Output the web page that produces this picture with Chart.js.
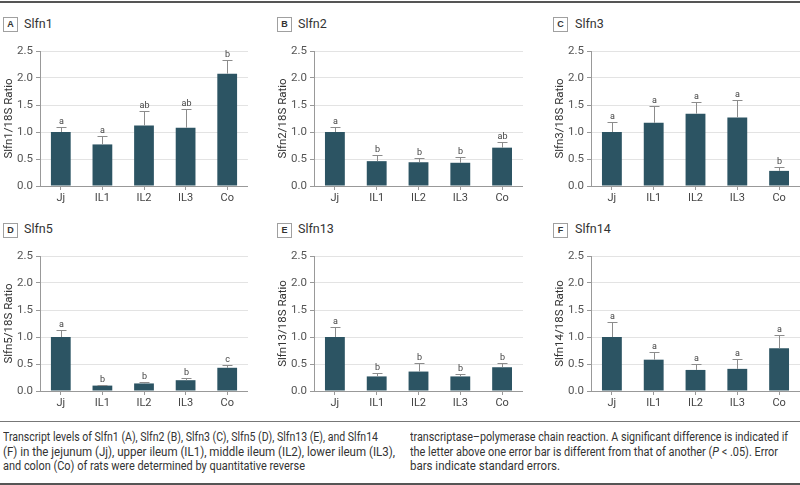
<!DOCTYPE html>
<html>
<head>
<meta charset="utf-8">
<script src="https://cdn.jsdelivr.net/npm/chart.js@4.4.0/dist/chart.umd.min.js"></script>
<style>
  body { margin: 0; width: 800px; height: 485px; background: #fff; position: relative; overflow: hidden;
         font-family: "Roboto", sans-serif; color: #333; }
  .rule { position: absolute; left: 0; width: 800px; }
  .tag { position: absolute; width: 13px; height: 13px; border: 1px solid #a0a0a0; font: bold 9px "Liberation Sans", sans-serif;
         text-align: center; line-height: 13px; color: #333; }
  .ttl { position: absolute; font-size: 12.5px; color: #333; line-height: 14px; }
  canvas { position: absolute; }
  .cl { position: absolute; font-size: 12px; line-height: 14px; color: #333; white-space: nowrap;
        transform-origin: 0 0; }
</style>
</head>
<body>
<div class="rule" style="top:1px;height:2px;background:#555"></div>

<div class="tag" style="left:3px;top:17px">A</div><div class="ttl" style="left:24px;top:17px">Slfn1</div>
<div class="tag" style="left:277px;top:17px">B</div><div class="ttl" style="left:298px;top:17px">Slfn2</div>
<div class="tag" style="left:553px;top:17px">C</div><div class="ttl" style="left:575px;top:17px">Slfn3</div>
<div class="tag" style="left:3px;top:223px">D</div><div class="ttl" style="left:24px;top:222px">Slfn5</div>
<div class="tag" style="left:277px;top:223px">E</div><div class="ttl" style="left:298px;top:222px">Slfn13</div>
<div class="tag" style="left:553px;top:223px">F</div><div class="ttl" style="left:575px;top:222px">Slfn14</div>

<canvas id="cA"></canvas>
<canvas id="cB"></canvas>
<canvas id="cC"></canvas>
<canvas id="cD"></canvas>
<canvas id="cE"></canvas>
<canvas id="cF"></canvas>

<div class="rule" style="top:421px;height:1px;background:#777"></div>
<div class="cl" style="left:3px;top:430px" data-w="375">Transcript levels of Slfn1 (A), Slfn2 (B), Slfn3 (C), Slfn5 (D), Slfn13 (E), and Slfn14</div>
<div class="cl" style="left:3px;top:444.5px" data-w="392">(F) in the jejunum (Jj), upper ileum (IL1), middle ileum (IL2), lower ileum (IL3),</div>
<div class="cl" style="left:3px;top:459px" data-w="302">and colon (Co) of rats were determined by quantitative reverse</div>
<div class="cl" style="left:410px;top:430px" data-w="378">transcriptase–polymerase chain reaction. A significant difference is indicated if</div>
<div class="cl" style="left:410px;top:444.5px" data-w="368">the letter above one error bar is different from that of another (<i>P</i> &lt; .05). Error</div>
<div class="cl" style="left:410px;top:459px" data-w="150">bars indicate standard errors.</div>
<div class="rule" style="top:483px;height:2px;background:#555"></div>

<script>
const categories = ["Jj", "IL1", "IL2", "IL3", "Co"];
const yTicks = [0, 0.5, 1.0, 1.5, 2.0, 2.5];

const slfn1Values = [1.00, 0.77, 1.12, 1.08, 2.08];
const slfn1Upper  = [1.09, 0.92, 1.39, 1.42, 2.33];
const slfn1Letters = ["a", "a", "ab", "ab", "b"];

const slfn2Values = [1.00, 0.46, 0.44, 0.43, 0.71];
const slfn2Upper  = [1.09, 0.57, 0.52, 0.54, 0.81];
const slfn2Letters = ["a", "b", "b", "b", "ab"];

const slfn3Values = [1.00, 1.17, 1.34, 1.27, 0.28];
const slfn3Upper  = [1.18, 1.48, 1.55, 1.59, 0.35];
const slfn3Letters = ["a", "a", "a", "a", "b"];

const slfn5Values = [1.00, 0.10, 0.14, 0.20, 0.43];
const slfn5Upper  = [1.13, 0.11, 0.16, 0.25, 0.49];
const slfn5Letters = ["a", "b", "b", "b", "c"];

const slfn13Values = [1.00, 0.27, 0.36, 0.27, 0.44];
const slfn13Upper  = [1.18, 0.33, 0.51, 0.31, 0.52];
const slfn13Letters = ["a", "b", "b", "b", "b"];

const slfn14Values = [1.00, 0.58, 0.39, 0.41, 0.79];
const slfn14Upper  = [1.27, 0.72, 0.50, 0.59, 1.04];
const slfn14Letters = ["a", "a", "a", "a", "a"];

const barColor = "#2c5463";
const fontFam = '"Roboto", sans-serif';

// squeeze caption lines to the width they have in the figure
document.querySelectorAll(".cl").forEach(el => {
  const w = el.getBoundingClientRect().width;
  el.style.transform = "scaleX(" + (Number(el.dataset.w) / w) + ")";
});

// error bars + significance letters, drawn through the chart's own scales
const errorPlugin = {
  id: "errorBars",
  afterDatasetsDraw(chart) {
    const ctx = chart.ctx;
    const y = chart.scales.y;
    const meta = chart.getDatasetMeta(0);
    const ds = chart.data.datasets[0];
    ctx.save();
    ctx.strokeStyle = "#8c8c8c";
    ctx.lineWidth = 1;
    meta.data.forEach((bar, i) => {
      const x = Math.round(bar.x) + 0.5;
      const yTop = Math.round(y.getPixelForValue(ds.upper[i])) + 0.5;
      const yVal = y.getPixelForValue(ds.data[i]);
      ctx.beginPath();
      ctx.moveTo(x, yVal);
      ctx.lineTo(x, yTop);
      ctx.moveTo(x - 5, yTop);
      ctx.lineTo(x + 5, yTop);
      ctx.stroke();
      ctx.fillStyle = "#444";
      ctx.font = "9px " + fontFam;
      ctx.textAlign = "center";
      ctx.textBaseline = "alphabetic";
      ctx.fillText(ds.letters[i], x, yTop - 4);
    });
    ctx.restore();
  }
};

function makePanel(id, left, top, width, values, upper, letters, yTitle) {
  const cv = document.getElementById(id);
  cv.width = width;
  cv.height = 170;
  cv.style.left = left + "px";
  cv.style.top = top + "px";
  new Chart(cv, {
    type: "bar",
    data: {
      labels: categories,
      datasets: [{
        data: values,
        upper: upper,
        letters: letters,
        backgroundColor: barColor,
        barPercentage: 0.95,
        categoryPercentage: 0.5
      }]
    },
    options: {
      responsive: false,
      animation: false,
      layout: { padding: { top: 11, right: 0, left: 0, bottom: 0 } },
      plugins: { legend: { display: false }, tooltip: { enabled: false } },
      scales: {
        x: {
          grid: { display: true, drawOnChartArea: false, offset: false, tickLength: 4, tickColor: "#999" },
          border: { color: "#999" },
          ticks: { color: "#444", font: { family: fontFam, size: 11 }, padding: 2 },
          afterFit(s) { s.height = 24; }
        },
        y: {
          min: 0, max: 2.5,
          afterBuildTicks(s) { s.ticks = yTicks.map(v => ({ value: v })); },
          grid: { color: "#e3e3e3", tickLength: 4, tickColor: "#999" },
          border: { color: "#999" },
          ticks: { color: "#555", font: { family: fontFam, size: 11.5 }, padding: 3,
                   callback: v => Number(v).toFixed(1) },
          title: { display: true, text: yTitle, color: "#333",
                   font: { family: fontFam, size: 11.5 }, padding: { top: 2, bottom: 0 } },
          afterFit(s) { s.width = 40; }
        }
      }
    },
    plugins: [errorPlugin]
  });
}

makePanel("cA", 0,   40,  248, slfn1Values,  slfn1Upper,  slfn1Letters,  "Slfn1/18S Ratio");
makePanel("cB", 274, 40,  249, slfn2Values,  slfn2Upper,  slfn2Letters,  "Slfn2/18S Ratio");
makePanel("cC", 551, 40,  249, slfn3Values,  slfn3Upper,  slfn3Letters,  "Slfn3/18S Ratio");
makePanel("cD", 0,   245, 248, slfn5Values,  slfn5Upper,  slfn5Letters,  "Slfn5/18S Ratio");
makePanel("cE", 274, 245, 249, slfn13Values, slfn13Upper, slfn13Letters, "Slfn13/18S Ratio");
makePanel("cF", 551, 245, 249, slfn14Values, slfn14Upper, slfn14Letters, "Slfn14/18S Ratio");
</script>
</body>
</html>
